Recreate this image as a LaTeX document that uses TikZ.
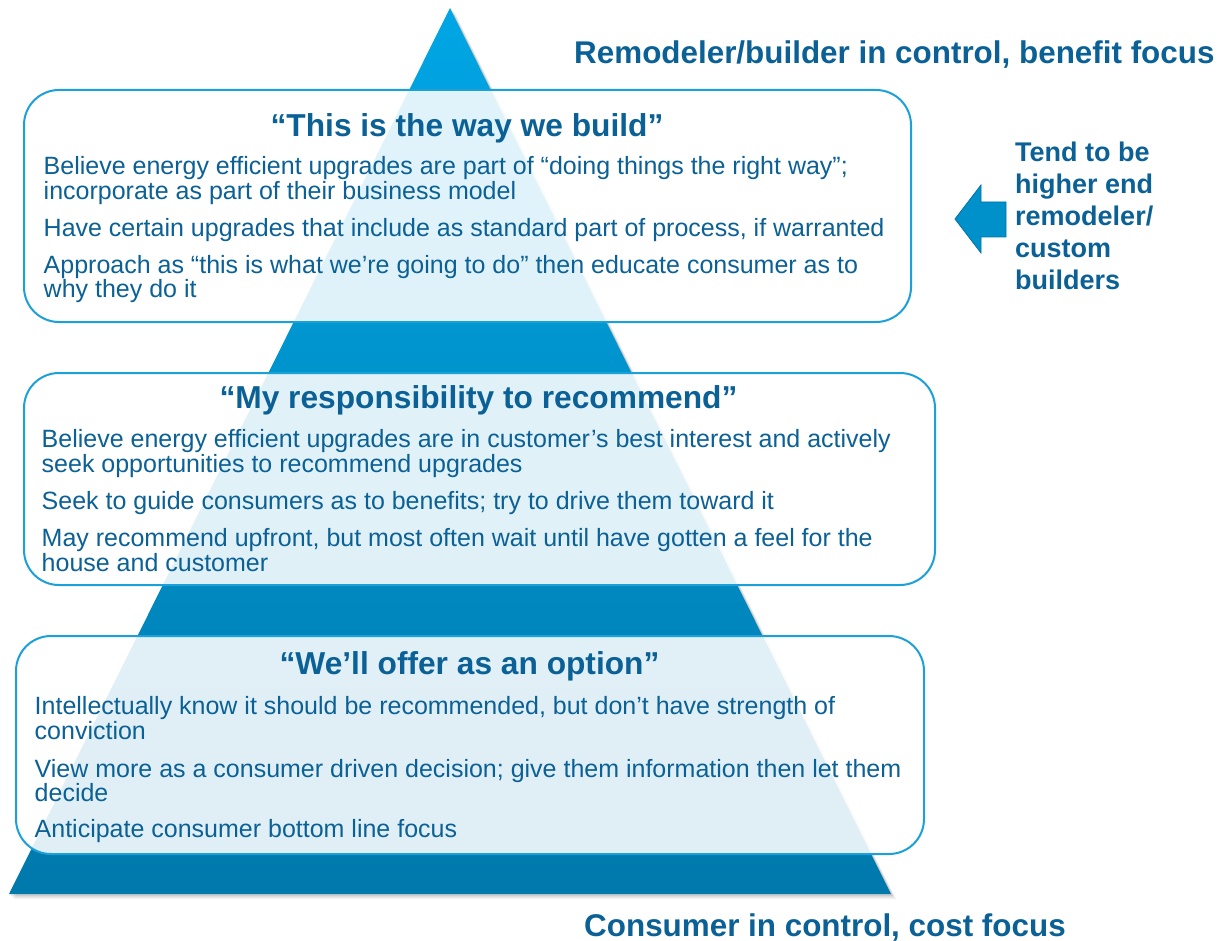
\documentclass[tikz,border=0pt]{standalone}
\usepackage{fontspec}
\setmainfont{Liberation Sans}
\definecolor{txt}{RGB}{11,97,150}
\definecolor{boxline}{RGB}{27,160,215}
\definecolor{pyrtop}{RGB}{0,166,228}
\definecolor{pyrbot}{RGB}{0,121,172}
\definecolor{arrowfill}{RGB}{0,145,203}
\definecolor{arrowline}{RGB}{0,115,168}
\begin{document}
\begin{tikzpicture}[x=1pt,y=-1pt,
  body/.style={anchor=base west, inner sep=0pt, text=txt, font=\fontsize{25}{25}\selectfont},
  ttl/.style={anchor=base, inner sep=0pt, text=txt, font=\fontsize{31.7}{31.7}\selectfont\bfseries},
  hd/.style={anchor=base west, inner sep=0pt, text=txt, font=\fontsize{31.4}{31.4}\selectfont\bfseries},
  side/.style={anchor=base west, inner sep=0pt, text=txt, font=\fontsize{27}{27}\selectfont\bfseries},
  panel/.style={draw=boxline, line width=2pt, fill=white, fill opacity=0.88, rounded corners=35pt, inner sep=0pt}]
\useasboundingbox (0,0) rectangle (1220,941);
% pyramid shadow
\foreach \d/\o in {5/0.05,3.5/0.07,2/0.09}{
  \fill[black, opacity=\o] (450+\d,8+\d) -- (891+\d,894+\d) -- (9+\d,894+\d) -- cycle;
}
% pyramid
\shade[top color=pyrtop, bottom color=pyrbot] (450,8) -- (891,894) -- (9,894) -- cycle;
% panels
\node[panel, minimum width=887pt, minimum height=232pt] (box1) at (467.5,206) {};
\node[panel, minimum width=911pt, minimum height=212pt] (box2) at (479.5,479) {};
\node[panel, minimum width=908pt, minimum height=218pt] (box3) at (470,745) {};
% headings
\node[hd] (top) at (574,64) {Remodeler/builder in control, benefit focus};
\node[hd] (bottom) at (584,936) {Consumer in control, cost focus};
% box 1
\node[ttl] (t1) at (467,137) {“This is the way we build”};
\node[body] (a1) at (43.5,175) {Believe energy efficient upgrades are part of “doing things the right way”;};
\node[body] (a2) at (43.5,200) {incorporate as part of their business model};
\node[body] (a3) at (43.5,237) {Have certain upgrades that include as standard part of process, if warranted};
\node[body] (a4) at (43.5,273) {Approach as “this is what we’re going to do” then educate consumer as to};
\node[body] (a5) at (43.5,298) {why they do it};
% box 2
\node[ttl] (t2) at (478.5,408) {“My responsibility to recommend”};
\node[body] (b1) at (41.5,447) {Believe energy efficient upgrades are in customer’s best interest and actively};
\node[body] (b2) at (41.5,472) {seek opportunities to recommend upgrades};
\node[body] (b3) at (41.5,509) {Seek to guide consumers as to benefits; try to drive them toward it};
\node[body] (b4) at (41.5,546) {May recommend upfront, but most often wait until have gotten a feel for the};
\node[body] (b5) at (41.5,571) {house and customer};
% box 3
\node[ttl] (t3) at (469.5,674) {“We’ll offer as an option”};
\node[body] (c1) at (34.5,714) {Intellectually know it should be recommended, but don’t have strength of};
\node[body] (c2) at (34.5,739) {conviction};
\node[body] (c3) at (34.5,777) {View more as a consumer driven decision; give them information then let them};
\node[body] (c4) at (34.5,801) {decide};
\node[body] (c5) at (34.5,837) {Anticipate consumer bottom line focus};
% side arrow
\filldraw[fill=arrowfill, draw=arrowline, line width=0.8pt]
  (955,219) -- (981,185) -- (981,202) -- (1006,202) -- (1006,237) -- (981,237) -- (981,253) -- cycle;
\node[side] (s1) at (1015,162) {Tend to be};
\node[side] (s2) at (1015,194) {higher end};
\node[side] (s3) at (1015,226) {remodeler/};
\node[side] (s4) at (1015,258) {custom};
\node[side] (s5) at (1015,290) {builders};
\end{tikzpicture}
\end{document}
